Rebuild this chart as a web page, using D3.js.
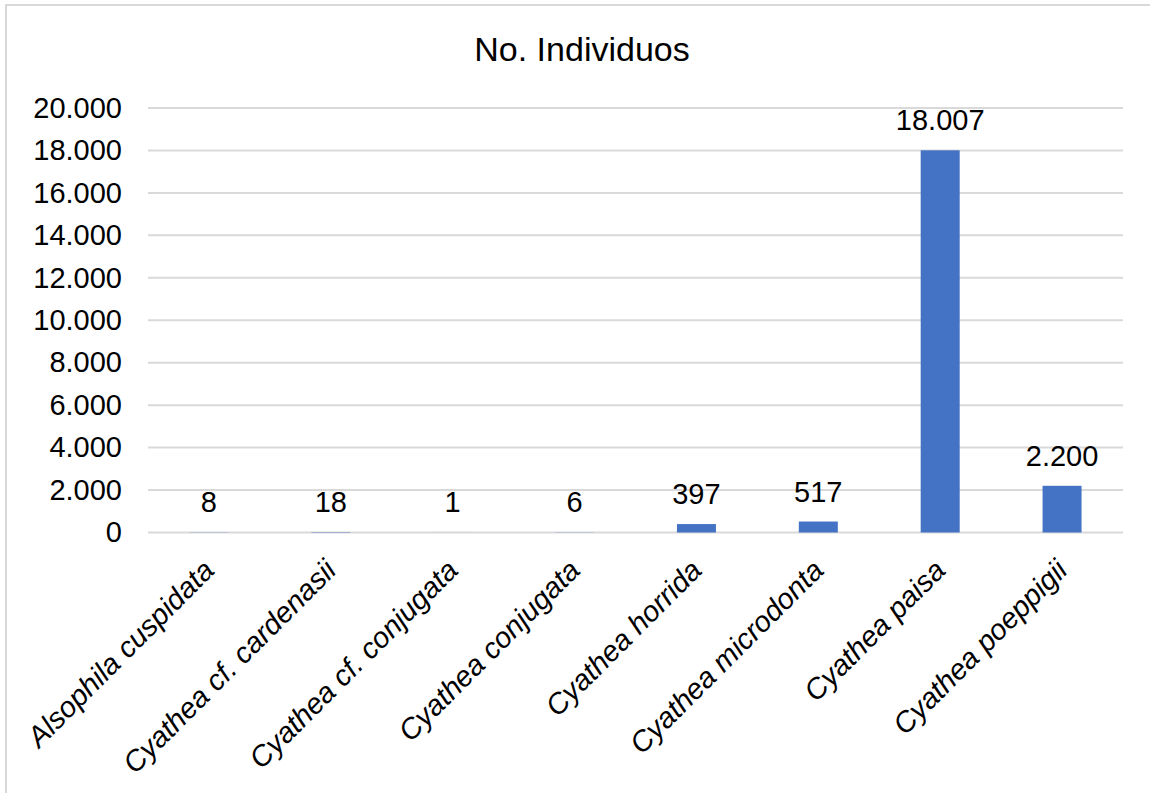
<!DOCTYPE html>
<html>
<head>
<meta charset="utf-8">
<script src="https://cdn.jsdelivr.net/npm/d3@7"></script>
<style>
  html, body { margin: 0; padding: 0; background: #fff; }
  svg { display: block; }
  text { font-family: "Liberation Sans", Arial, sans-serif; fill: #000; }
</style>
</head>
<body>
<svg id="chart" width="1150" height="793"></svg>
<script>
// Tree-fern species and their counted individuals
const species = [
  "Alsophila cuspidata",
  "Cyathea cf. cardenasii",
  "Cyathea cf. conjugata",
  "Cyathea conjugata",
  "Cyathea horrida",
  "Cyathea microdonta",
  "Cyathea paisa",
  "Cyathea poeppigii"
];
const individuals = [8, 18, 1, 6, 397, 517, 18007, 2200];
const yTicks = [0, 2000, 4000, 6000, 8000, 10000, 12000, 14000, 16000, 18000, 20000];
const chartTitle = "No. Individuos";

// Spanish-style number formatting: "." as thousands separator
const locale = d3.formatLocale({ decimal: ",", thousands: ".", grouping: [3], currency: ["", ""] });
const fmt = locale.format(",d");

const svg = d3.select("#chart");
const W = 1150, H = 793;

// Frame of the chart area
svg.append("rect")
  .attr("x", 6).attr("y", 5)
  .attr("width", W + 20).attr("height", H + 20)
  .attr("fill", "#fff")
  .attr("stroke", "#d9d9d9")
  .attr("stroke-width", 2);

const plot = { left: 148, right: 1123, top: 108, bottom: 532.5 };

const x = d3.scaleBand()
  .domain(species)
  .range([plot.left, plot.right])
  .paddingInner(0.68)
  .paddingOuter(0.34);

const y = d3.scaleLinear()
  .domain([0, 20000])
  .range([plot.bottom, plot.top]);

// Title
svg.append("text")
  .attr("x", 582).attr("y", 61)
  .attr("text-anchor", "middle")
  .style("font-size", "34px")
  .text(chartTitle);

// Horizontal gridlines
svg.append("g")
  .selectAll("line")
  .data(yTicks)
  .join("line")
  .attr("x1", plot.left).attr("x2", plot.right)
  .attr("y1", d => y(d)).attr("y2", d => y(d))
  .attr("stroke", "#d9d9d9")
  .attr("stroke-width", 2);

// Y axis tick labels
const yAxis = d3.axisLeft(y).tickValues(yTicks).tickFormat(fmt).tickSize(0).tickPadding(26);
const yg = svg.append("g").attr("transform", `translate(${plot.left},0)`).call(yAxis);
yg.select(".domain").remove();
yg.selectAll("text")
  .style("font-size", "29px")
  .style("font-family", "'Liberation Sans', Arial, sans-serif")
  .attr("fill", "#000");

// Bars
svg.append("g")
  .selectAll("rect")
  .data(species)
  .join("rect")
  .attr("x", d => x(d))
  .attr("width", x.bandwidth())
  .attr("y", (d, i) => y(individuals[i]))
  .attr("height", (d, i) => y(0) - y(individuals[i]))
  .attr("fill", "#4472c4");

// Value labels above the bars
svg.append("g")
  .selectAll("text")
  .data(species)
  .join("text")
  .attr("x", d => x(d) + x.bandwidth() / 2)
  .attr("y", (d, i) => y(individuals[i]) - 20)
  .attr("text-anchor", "middle")
  .style("font-size", "29px")
  .text((d, i) => fmt(individuals[i]));

// Rotated italic category labels
svg.append("g")
  .selectAll("text")
  .data(species)
  .join("text")
  .attr("transform", d => `translate(${x(d) + x.bandwidth() / 2 + 7},572) rotate(-45)`)
  .attr("text-anchor", "end")
  .style("font-size", "29px")
  .style("font-style", "italic")
  .text(d => d);
</script>
</body>
</html>
